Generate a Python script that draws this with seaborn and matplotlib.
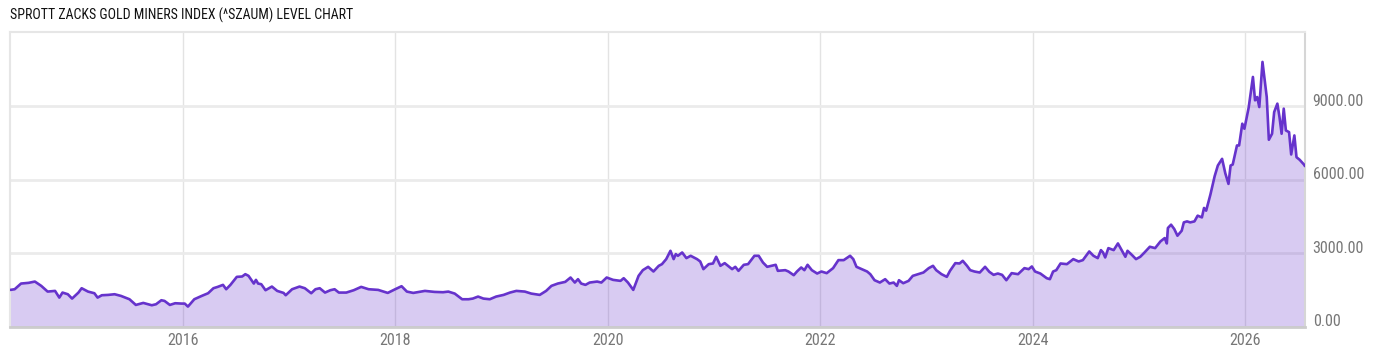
import matplotlib
matplotlib.use("Agg")
import matplotlib.pyplot as plt
import matplotlib.transforms as mtransforms
import seaborn as sns
import pandas as pd

TITLE = "SPROTT ZACKS GOLD MINERS INDEX (^SZAUM) LEVEL CHART"

# decimal-year positions of the sampled readings
years = [
    2014.38, 2014.42, 2014.48, 2014.55, 2014.61, 2014.67, 2014.73, 2014.80, 2014.84, 2014.87, 2014.92, 2014.96,
    2015.02, 2015.05, 2015.11, 2015.17, 2015.20, 2015.24, 2015.30, 2015.36, 2015.42, 2015.50, 2015.56, 2015.63,
    2015.71, 2015.75, 2015.80, 2015.83, 2015.88, 2015.93, 2015.99,
    2016.02, 2016.05, 2016.11, 2016.18, 2016.24, 2016.29, 2016.33, 2016.38, 2016.41,
    2016.45, 2016.51, 2016.56, 2016.59, 2016.62, 2016.67, 2016.69, 2016.71, 2016.74, 2016.78, 2016.84, 2016.89,
    2016.95, 2016.97,
    2017.03, 2017.10, 2017.15, 2017.21, 2017.25, 2017.29, 2017.34, 2017.39, 2017.43, 2017.47, 2017.54, 2017.61,
    2017.68, 2017.75, 2017.84, 2017.93,
    2018.00, 2018.06, 2018.11, 2018.17, 2018.28, 2018.37, 2018.45,
    2018.50, 2018.56, 2018.63, 2018.69, 2018.73, 2018.78, 2018.83, 2018.89, 2018.95,
    2019.02, 2019.08, 2019.14, 2019.22, 2019.28, 2019.36, 2019.42, 2019.47, 2019.53, 2019.60, 2019.65, 2019.69,
    2019.72, 2019.75, 2019.79, 2019.83, 2019.90, 2019.94, 2019.99,
    2020.05, 2020.12, 2020.15, 2020.19, 2020.24, 2020.29, 2020.33, 2020.38, 2020.43, 2020.48,
    2020.51, 2020.55, 2020.59, 2020.62, 2020.64, 2020.66, 2020.70, 2020.74, 2020.78, 2020.84, 2020.87, 2020.90,
    2020.95, 2020.99,
    2021.02, 2021.06, 2021.10, 2021.17, 2021.20, 2021.23, 2021.28, 2021.32, 2021.38, 2021.42, 2021.46, 2021.50,
    2021.54, 2021.58, 2021.60, 2021.67, 2021.70, 2021.75, 2021.78, 2021.82, 2021.85, 2021.88, 2021.92, 2021.97,
    2022.01, 2022.06, 2022.12, 2022.17, 2022.22, 2022.28, 2022.31, 2022.34, 2022.39, 2022.44, 2022.47,
    2022.51, 2022.56, 2022.61, 2022.65, 2022.69, 2022.72, 2022.74, 2022.78, 2022.83, 2022.87, 2022.92, 2022.97,
    2023.02, 2023.06, 2023.09, 2023.14, 2023.19, 2023.22, 2023.27, 2023.31, 2023.34, 2023.38, 2023.41, 2023.45,
    2023.50, 2023.55, 2023.59, 2023.63, 2023.67, 2023.71, 2023.75, 2023.80, 2023.86, 2023.92, 2023.96, 2023.99,
    2024.02, 2024.07, 2024.13, 2024.16, 2024.19, 2024.22, 2024.26, 2024.32, 2024.38, 2024.43, 2024.47, 2024.53,
    2024.57, 2024.61, 2024.64, 2024.66, 2024.68, 2024.71, 2024.76, 2024.80, 2024.83, 2024.87, 2024.89, 2024.93,
    2024.97,
    2025.01, 2025.05, 2025.10, 2025.15, 2025.20, 2025.24, 2025.26, 2025.27, 2025.30, 2025.33, 2025.36, 2025.40,
    2025.42, 2025.45, 2025.48, 2025.52, 2025.55, 2025.59, 2025.61, 2025.63, 2025.67, 2025.71,
    2025.74, 2025.78, 2025.81, 2025.84, 2025.86, 2025.88, 2025.92, 2025.94, 2025.97, 2025.99,
    2026.03, 2026.07, 2026.09, 2026.11, 2026.13, 2026.16, 2026.20, 2026.22, 2026.25, 2026.27, 2026.30, 2026.32,
    2026.34, 2026.36, 2026.38, 2026.41, 2026.43, 2026.46, 2026.48, 2026.51, 2026.55, 2026.56,
]

level = [
    1513, 1540, 1772, 1800, 1853, 1677, 1444, 1472, 1199, 1404, 1336, 1159,
    1404, 1581, 1444, 1377, 1199, 1295, 1309, 1336, 1268, 1132, 900, 982,
    887, 928, 1091, 1063, 900, 969, 955,
    955, 832, 1132, 1268, 1377, 1581, 1636, 1718, 1540,
    1718, 2045, 2059, 2154, 2086, 1772, 1922, 1772, 1745, 1500, 1649, 1472,
    1390, 1295,
    1540, 1649, 1581, 1377, 1540, 1581, 1404, 1500, 1540, 1404, 1404, 1500,
    1636, 1540, 1513, 1390,
    1540, 1663, 1444, 1390, 1472, 1431, 1418,
    1444, 1363, 1132, 1132, 1159, 1241, 1159, 1132, 1241,
    1309, 1404, 1472, 1444, 1363, 1309, 1472, 1677, 1772, 1840, 2018, 1813,
    1950, 1772, 1718, 1813, 1853, 1813, 2018,
    1922, 1881, 1990, 1813, 1513, 2086, 2318, 2454, 2263, 2495,
    2563, 2768, 3108, 2768, 2973, 2904, 3039, 2809, 2904, 2768, 2672, 2359,
    2563, 2590,
    2863, 2495, 2604, 2359, 2454, 2290, 2536, 2563, 2904, 2904, 2631, 2454,
    2495, 2536, 2290, 2318, 2263, 2113, 2263, 2427, 2318, 2536, 2318, 2181,
    2263, 2196, 2400, 2727, 2727, 2904, 2768, 2454, 2359, 2263, 2154,
    1908, 1813, 1950, 1772, 1813, 1677, 1908, 1786, 1881, 2086, 2154, 2222,
    2400, 2495, 2318, 2154, 2045, 2290, 2604, 2590, 2699, 2495, 2318, 2263,
    2222, 2454, 2250, 2127, 2181, 2127, 1908, 2196, 2154, 2400, 2359, 2468,
    2263, 2181, 1990, 1950, 2263, 2318, 2590, 2563, 2768, 2672, 2727, 3080,
    2904, 2809, 3135, 3039, 2836, 3217, 3135, 3408, 3176, 2863, 3108, 2945,
    2768,
    2863, 3039, 3272, 3217, 3490, 3626, 3408, 4037, 4172, 3995, 3722, 3926,
    4266, 4307, 4266, 4307, 4540, 4470, 4855, 4744, 5400, 6150,
    6585, 6858, 6270, 5836, 6585, 6626, 7403, 7403, 8290, 8086,
    8945, 10197, 9243, 9379, 8970, 10810, 9379, 7636, 7881, 8765, 9108, 8561,
    7881, 8904, 8016, 7947, 7035, 7812, 6924, 6818, 6626, 6560,
]

x_ticks = [2016, 2018, 2020, 2022, 2024, 2026]
y_ticks = [0, 3000, 6000, 9000]

df = pd.DataFrame({"year": years, "level": level})

sns.set_theme(style="white")
FONT = ["Roboto Condensed", "Liberation Sans Narrow", "DejaVu Sans Condensed", "Roboto", "DejaVu Sans"]
plt.rcParams["font.family"] = FONT

fig = plt.figure(figsize=(14, 3.57), dpi=100)
ax = fig.add_axes([10 / 1400, 1 - 327 / 357, 1295 / 1400, 295 / 357])

LINE = "#6633cc"
ax.set_axisbelow(True)
ax.grid(axis="y", color="#ebebeb", linewidth=2)
ax.grid(axis="x", color="#e3e3e3", linewidth=1)

ax.fill_between(df["year"], df["level"], 0, color=LINE, alpha=0.25, linewidth=0, zorder=2)
sns.lineplot(data=df, x="year", y="level", ax=ax, color=LINE, linewidth=1.9, zorder=3)

ax.set_xlim(2014.376, 2026.56)
ax.set_ylim(0, 12030)
ax.set_xticks(x_ticks)
ax.set_xticklabels([str(t) for t in x_ticks])
ax.set_yticks(y_ticks)
ax.set_yticklabels([f"{t:.2f}" for t in y_ticks])
ax.set_xlabel("")
ax.set_ylabel("")

ax.yaxis.tick_right()
ax.tick_params(axis="y", length=0, pad=5.5, labelsize=11.5, labelcolor="#777777")
ax.tick_params(axis="x", length=0, pad=4, labelsize=11.5, labelcolor="#777777")
off = mtransforms.ScaledTranslation(0, 6.5 / 100, fig.dpi_scale_trans)
for lab in ax.get_yticklabels():
    lab.set_transform(lab.get_transform() + off)
    lab.set_horizontalalignment("left")

for side in ["left", "top"]:
    ax.spines[side].set_color("#e6e6e6")
    ax.spines[side].set_linewidth(1.5)
ax.spines["right"].set_color("#d6d6d6")
ax.spines["right"].set_linewidth(1.5)
ax.spines["bottom"].set_color("#cccccc")
ax.spines["bottom"].set_linewidth(2)

fig.text(10 / 1400, 1 - 15 / 357, TITLE, fontsize=10, color="#111111", va="center", ha="left")

fig.savefig("out.png", dpi=100)
